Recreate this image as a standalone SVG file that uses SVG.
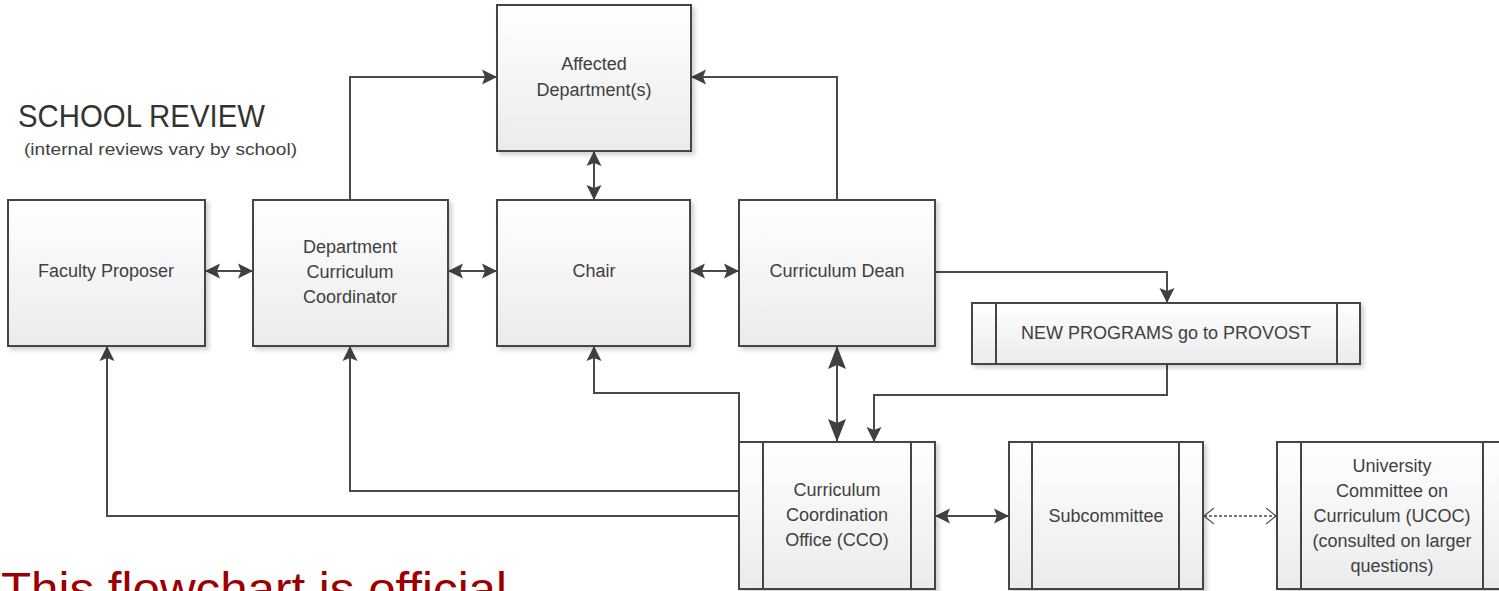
<svg xmlns="http://www.w3.org/2000/svg" width="1499" height="591" viewBox="0 0 1499 591">
<style>
.box{fill:url(#g);stroke:#454545;stroke-width:2;filter:url(#sh)}
.bar{fill:none;stroke:#454545;stroke-width:2}
.t{font-family:"Liberation Sans",Arial,sans-serif;font-size:18px;fill:#404040;text-anchor:middle}
.c{fill:none;stroke:#4a4a4a;stroke-width:2}
</style>
<defs>
<linearGradient id="g" x1="0" y1="0" x2="0" y2="1">
<stop offset="0" stop-color="#ffffff"/>
<stop offset="1" stop-color="#ebebeb"/>
</linearGradient>
<filter id="sh" x="-5%" y="-5%" width="115%" height="115%">
<feDropShadow dx="3" dy="3" stdDeviation="2" flood-color="#000" flood-opacity="0.18"/>
</filter>
<marker id="a" markerUnits="userSpaceOnUse" viewBox="-1 -9 18 18" markerWidth="18" markerHeight="18" refX="15" refY="0" orient="auto-start-reverse">
<path d="M0,-7.5 L15,0 L0,7.5 L3,0 Z" fill="#404040"/>
</marker>
<marker id="ab" markerUnits="userSpaceOnUse" viewBox="-1 -10 25 20" markerWidth="25" markerHeight="20" refX="23" refY="0" orient="auto-start-reverse">
<path d="M0,-9 L23,0 L0,9 L4,0 Z" fill="#404040"/>
</marker>
<marker id="o" markerUnits="userSpaceOnUse" viewBox="-1 -10 12 20" markerWidth="12" markerHeight="20" refX="10" refY="0" orient="auto-start-reverse">
<path d="M0,-8 L10,0 L0,8" fill="none" stroke="#505050" stroke-width="1.2"/>
</marker>
</defs>
<rect width="1499" height="591" fill="#ffffff"/>

<g id="title">
<text x="18" y="127" font-family="Liberation Sans,Arial,sans-serif" font-size="31" fill="#333" textLength="247" lengthAdjust="spacingAndGlyphs">SCHOOL REVIEW</text>
<text x="24" y="155" font-family="Liberation Sans,Arial,sans-serif" font-size="17" fill="#404040" textLength="273" lengthAdjust="spacingAndGlyphs">(internal reviews vary by school)</text>
</g>

<g id="connectors">
<line class="c" x1="205" y1="271" x2="253" y2="271" marker-start="url(#a)" marker-end="url(#a)"/>
<line class="c" x1="448" y1="271" x2="497" y2="271" marker-start="url(#a)" marker-end="url(#a)"/>
<line class="c" x1="690" y1="271" x2="739" y2="271" marker-start="url(#a)" marker-end="url(#a)"/>
<line class="c" x1="594" y1="151" x2="594" y2="200" marker-start="url(#a)" marker-end="url(#a)"/>
<path class="c" d="M350,200 V77 H497" marker-end="url(#a)"/>
<path class="c" d="M837,200 V77 H691" marker-end="url(#a)"/>
<path class="c" d="M935,272 H1167 V303" marker-end="url(#a)"/>
<path class="c" d="M1167,364 V395 H874 V442" marker-end="url(#a)"/>
<line class="c" x1="837" y1="346" x2="837" y2="442" marker-start="url(#ab)" marker-end="url(#ab)"/>
<path class="c" d="M739,442 V393 H594 V346" marker-end="url(#a)"/>
<path class="c" d="M739,491 H350 V346" marker-end="url(#a)"/>
<path class="c" d="M739,516 H107 V346" marker-end="url(#a)"/>
<line class="c" x1="935" y1="516" x2="1009" y2="516" marker-start="url(#a)" marker-end="url(#a)"/>
<line x1="1204" y1="516" x2="1276" y2="516" stroke="#4a4a4a" stroke-width="1.6" stroke-dasharray="3,2" marker-start="url(#o)" marker-end="url(#o)"/>
</g>

<g id="affected">
<rect class="box" x="497" y="5" width="194" height="146"/>
<text class="t" x="594" y="70">Affected</text>
<text class="t" x="594" y="96">Department(s)</text>
</g>

<g id="faculty">
<rect class="box" x="8" y="200" width="197" height="146"/>
<text class="t" x="106" y="277">Faculty Proposer</text>
</g>

<g id="dcc">
<rect class="box" x="253" y="200" width="195" height="146"/>
<text class="t" x="350" y="253">Department</text>
<text class="t" x="350" y="278">Curriculum</text>
<text class="t" x="350" y="303">Coordinator</text>
</g>

<g id="chair">
<rect class="box" x="497" y="200" width="193" height="146"/>
<text class="t" x="594" y="277">Chair</text>
</g>

<g id="dean">
<rect class="box" x="739" y="200" width="196" height="146"/>
<text class="t" x="837" y="277">Curriculum Dean</text>
</g>

<g id="provost">
<rect class="box" x="972" y="303" width="388" height="61"/>
<path class="bar" d="M996,303 V364 M1337,303 V364"/>
<text class="t" x="1166" y="339">NEW PROGRAMS go to PROVOST</text>
</g>

<g id="cco">
<rect class="box" x="739" y="442" width="196" height="147"/>
<path class="bar" d="M763,442 V589 M911,442 V589"/>
<text class="t" x="837" y="496">Curriculum</text>
<text class="t" x="837" y="521">Coordination</text>
<text class="t" x="837" y="546">Office (CCO)</text>
</g>

<g id="subcommittee">
<rect class="box" x="1009" y="442" width="194" height="147"/>
<path class="bar" d="M1032,442 V589 M1179,442 V589"/>
<text class="t" x="1106" y="522">Subcommittee</text>
</g>

<g id="ucoc">
<rect class="box" x="1277" y="442" width="230" height="147"/>
<path class="bar" d="M1301,442 V589 M1483,442 V589"/>
<text class="t" x="1392" y="472">University</text>
<text class="t" x="1392" y="497">Committee on</text>
<text class="t" x="1392" y="522">Curriculum (UCOC)</text>
<text class="t" x="1392" y="547">(consulted on larger</text>
<text class="t" x="1392" y="572">questions)</text>
</g>

<g id="note">
<text x="1" y="605" font-family="Liberation Sans,Arial,sans-serif" font-size="46" fill="#9b0000" textLength="506" lengthAdjust="spacingAndGlyphs">This flowchart is official</text>
</g>
</svg>
